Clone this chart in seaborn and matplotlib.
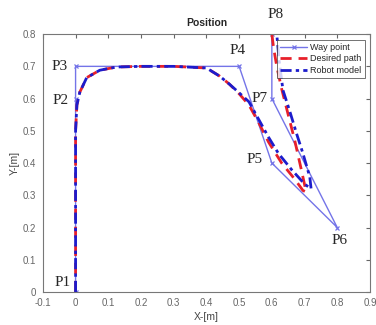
import matplotlib
matplotlib.use("Agg")
import numpy as np
import seaborn as sns
import matplotlib.pyplot as plt

# way points P1..P8
wp_names = ["P1", "P2", "P3", "P4", "P5", "P6", "P7", "P8"]
wp_x = [0.0, 0.0, 0.0, 0.5, 0.6, 0.8, 0.6, 0.6]
wp_y = [0.0, 0.6, 0.7, 0.7, 0.4, 0.2, 0.6, 0.8]

# desired path
des_x = [0.0, 0.0, 0.004, 0.013, 0.034, 0.074, 0.125, 0.2, 0.3, 0.4, 0.44, 0.47, 0.5,
         0.53, 0.56, 0.59, 0.63, 0.67, 0.695, 0.705, 0.69, 0.67, 0.65, 0.63, 0.615, 0.605, 0.60]
des_y = [0.0, 0.5, 0.58, 0.62, 0.665, 0.688, 0.698, 0.70, 0.70, 0.695, 0.67, 0.645, 0.615,
         0.58, 0.525, 0.465, 0.40, 0.35, 0.315, 0.31, 0.38, 0.47, 0.55, 0.63, 0.70, 0.76, 0.80]

# robot model
rob_x = [0.0, 0.0, 0.004, 0.013, 0.034, 0.074, 0.125, 0.2, 0.3, 0.4, 0.44, 0.47, 0.5,
         0.53, 0.56, 0.59, 0.62, 0.66, 0.70, 0.72, 0.716, 0.695, 0.676, 0.655, 0.634, 0.622, 0.615]
rob_y = [0.0, 0.5, 0.58, 0.62, 0.665, 0.688, 0.698, 0.70, 0.70, 0.695, 0.67, 0.645, 0.618,
         0.59, 0.535, 0.48, 0.43, 0.38, 0.335, 0.32, 0.357, 0.43, 0.49, 0.56, 0.626, 0.72, 0.80]

sns.set_style("white")
plt.rcParams['font.family'] = ['Liberation Sans', 'DejaVu Sans']

fig = plt.figure(figsize=(3.76, 3.25), dpi=100)
ax = fig.add_axes([0.114, 0.1015, 0.87, 0.7935])

wp_col = "#7474e8"
sns.lineplot(x=wp_x, y=wp_y, sort=False, estimator=None, ax=ax, color=wp_col,
             lw=1.0, marker="x", markersize=3.5, markeredgewidth=0.9,
             markeredgecolor=wp_col, label="Way point")
sns.lineplot(x=des_x, y=des_y, sort=False, estimator=None, ax=ax, color="#e8202a",
             lw=2.0, linestyle=(0, (4, 2.5)), label="Desired path")
sns.lineplot(x=rob_x, y=rob_y, sort=False, estimator=None, ax=ax, color="#1c1ccc",
             lw=2.0, linestyle=(0, (4, 1.5, 1.2, 1.5)), label="Robot model")

ax.set_xlim(-0.1, 0.9)
ax.set_ylim(0, 0.8)
ax.set_xticks(np.round(np.arange(-0.1, 0.91, 0.1), 1))
ax.set_yticks(np.round(np.arange(0, 0.81, 0.1), 1))
ax.set_xticklabels(["-0.1", "0", "0.1", "0.2", "0.3", "0.4", "0.5", "0.6", "0.7", "0.8", "0.9"])
ax.set_yticklabels(["0", "0.1", "0.2", "0.3", "0.4", "0.5", "0.6", "0.7", "0.8"])
ax.tick_params(direction="in", length=3, width=0.8, labelsize=7, colors="#666666",
               top=True, right=True)
ax.tick_params(axis="x", pad=4)
ax.tick_params(axis="y", pad=5)
for s in ax.spines.values():
    s.set_color("#777777")
    s.set_linewidth(0.8)

ax.set_xlabel("X-[m]", fontsize=7.5, color="#444444", labelpad=3)
ax.set_ylabel("Y-[m]", fontsize=7.5, color="#444444", labelpad=2)
ax.set_title("Position", fontsize=7.5, fontweight="bold", pad=6)

# way point labels
offs = [(-0.039, 0.028), (-0.045, -0.005), (-0.048, 0.0), (-0.004, 0.05), (-0.052, 0.01),
        (0.008, -0.04), (-0.036, 0.0), (0.01, 0.06)]
for n, x, y, (dx, dy) in zip(wp_names, wp_x, wp_y, offs):
    ax.text(x + dx, y + dy, n, fontsize=11, family="Liberation Serif",
            ha="center", va="center", clip_on=False)

leg = ax.legend(loc="upper right", fontsize=6.5, frameon=True, fancybox=False,
                borderpad=0.35, labelspacing=0.3, handlelength=3.0, handletextpad=0.3,
                borderaxespad=0.6)
leg.get_frame().set_edgecolor("#333333")
leg.get_frame().set_linewidth(0.6)

fig.savefig("out.png", dpi=100)
